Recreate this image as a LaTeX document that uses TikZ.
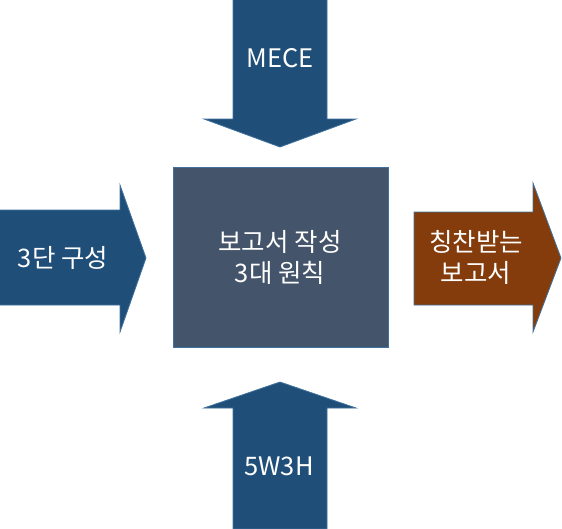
\documentclass[tikz,border=0pt]{standalone}
\usepackage{fontspec}
\setmainfont{Noto Sans CJK KR}
\begin{document}
\begin{tikzpicture}[x=1pt,y=-1pt,
    arrowshape/.style={fill=navy, draw=edge, line width=0.8pt},
    label/.style={text=white, font=\fontsize{25.5}{31}\selectfont, align=center}]

    \definecolor{navy}{HTML}{1F4E79}
    \definecolor{slate}{HTML}{44546A}
    \definecolor{rust}{HTML}{843C0C}
    \definecolor{edge}{HTML}{41719C}

    \useasboundingbox (0,0) rectangle (562,528);

    % Centre box
    \filldraw[fill=slate, draw=edge, line width=0.8pt] (173,167) rectangle (388,347);
    \node[label] (core) at (280,257) {보고서 작성\\3대 원칙};

    % Arrow from the top
    \filldraw[arrowshape] (233,-1) -- (327,-1) -- (327,119) -- (356,119)
        -- (280,147) -- (204,119) -- (233,119) -- cycle;
    \node[label] (mece) at (280,58) {MECE};

    % Arrow from the bottom
    \filldraw[arrowshape] (233,529) -- (327,529) -- (327,408) -- (356,408)
        -- (280,382) -- (204,408) -- (233,408) -- cycle;
    \node[label] (whs) at (279,466) {5W3H};

    % Arrow from the left
    \filldraw[arrowshape] (-1,210) -- (120,210) -- (120,185) -- (146,258)
        -- (120,332) -- (120,305) -- (-1,305) -- cycle;
    \node[label] (three) at (63,258) {3단 구성};

    % Result arrow on the right
    \filldraw[fill=rust, draw=edge, line width=0.8pt] (414,212) -- (533,212) -- (533,183)
        -- (561,258) -- (533,332) -- (533,305) -- (414,305) -- cycle;
    \node[label] (praise) at (476,257) {칭찬받는\\보고서};

\end{tikzpicture}
\end{document}
